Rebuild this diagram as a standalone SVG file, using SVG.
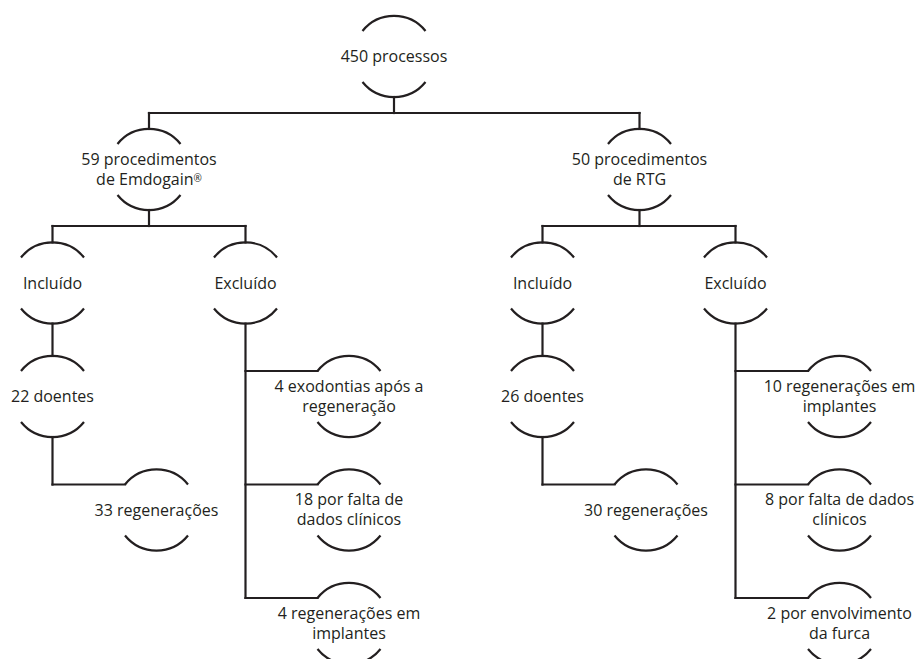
<svg xmlns="http://www.w3.org/2000/svg" xmlns:xlink="http://www.w3.org/1999/xlink" width="919" height="659" viewBox="0 0 919 659">
<style>
  .arc { fill: none; stroke: #231f20; stroke-width: 2.2; }
  .conn line { stroke: #231f20; stroke-width: 2.2; stroke-linecap: square; }
  text { font-family: "Open Sans", "Liberation Sans", sans-serif; font-size: 16px; fill: #231f20; text-anchor: middle; }
</style>
<defs>
  <g id="shape">
    <path class="arc" d="M -31.5,-25.5 A 40.5 40.5 0 0 1 31.5,-25.5"/>
    <path class="arc" d="M -31.5,25.5 A 40.5 40.5 0 0 0 31.5,25.5"/>
  </g>
</defs>
<rect width="919" height="659" fill="#ffffff"/>

<g id="connectors" class="conn">
  <line x1="394" y1="97" x2="394" y2="113"/>
  <line x1="149" y1="113" x2="639.5" y2="113"/>
  <line x1="149" y1="113" x2="149" y2="129"/>
  <line x1="639.5" y1="113" x2="639.5" y2="129"/>

  <line x1="149" y1="210" x2="149" y2="226"/>
  <line x1="52.5" y1="226" x2="245.5" y2="226"/>
  <line x1="52.5" y1="226" x2="52.5" y2="242.5"/>
  <line x1="245.5" y1="226" x2="245.5" y2="242.5"/>

  <line x1="639.5" y1="210" x2="639.5" y2="226"/>
  <line x1="542.5" y1="226" x2="735.5" y2="226"/>
  <line x1="542.5" y1="226" x2="542.5" y2="242.5"/>
  <line x1="735.5" y1="226" x2="735.5" y2="242.5"/>

  <line x1="52.5" y1="323.5" x2="52.5" y2="356"/>
  <line x1="52.5" y1="437" x2="52.5" y2="484.5"/>
  <line x1="52.5" y1="484.5" x2="125" y2="484.5"/>

  <line x1="245.5" y1="323.5" x2="245.5" y2="598"/>
  <line x1="245.5" y1="371" x2="317.5" y2="371"/>
  <line x1="245.5" y1="484.5" x2="317.5" y2="484.5"/>
  <line x1="245.5" y1="598" x2="317.5" y2="598"/>

  <line x1="542.5" y1="323.5" x2="542.5" y2="356"/>
  <line x1="542.5" y1="437" x2="542.5" y2="484.5"/>
  <line x1="542.5" y1="484.5" x2="614.5" y2="484.5"/>

  <line x1="735.5" y1="323.5" x2="735.5" y2="598"/>
  <line x1="735.5" y1="371" x2="808" y2="371"/>
  <line x1="735.5" y1="484.5" x2="808" y2="484.5"/>
  <line x1="735.5" y1="598" x2="808" y2="598"/>
</g>

<g id="n-processos">
  <use xlink:href="#shape" href="#shape" x="394" y="56.5"/>
  <text x="394" y="62">450 processos</text>
</g>
<g id="n-emdogain">
  <use xlink:href="#shape" href="#shape" x="149" y="169.5"/>
  <text x="149" y="165">59 procedimentos</text>
  <text x="149" y="185">de Emdogain<tspan font-size="10" dy="-3">®</tspan></text>
</g>
<g id="n-rtg">
  <use xlink:href="#shape" href="#shape" x="639.5" y="169.5"/>
  <text x="639.5" y="165">50 procedimentos</text>
  <text x="639.5" y="185">de RTG</text>
</g>
<g id="n-incluido-e">
  <use xlink:href="#shape" href="#shape" x="52.5" y="283"/>
  <text x="52.5" y="288.5">Incluído</text>
</g>
<g id="n-excluido-e">
  <use xlink:href="#shape" href="#shape" x="245.5" y="283"/>
  <text x="245.5" y="288.5">Excluído</text>
</g>
<g id="n-incluido-r">
  <use xlink:href="#shape" href="#shape" x="542.5" y="283"/>
  <text x="542.5" y="288.5">Incluído</text>
</g>
<g id="n-excluido-r">
  <use xlink:href="#shape" href="#shape" x="735.5" y="283"/>
  <text x="735.5" y="288.5">Excluído</text>
</g>
<g id="n-doentes-e">
  <use xlink:href="#shape" href="#shape" x="52.5" y="396.5"/>
  <text x="52.5" y="402">22 doentes</text>
</g>
<g id="n-regen-e">
  <use xlink:href="#shape" href="#shape" x="156.5" y="510"/>
  <text x="156.5" y="515.5">33 regenerações</text>
</g>
<g id="n-exo-e">
  <use xlink:href="#shape" href="#shape" x="349" y="396.5"/>
  <text x="349" y="391.5">4 exodontias após a</text>
  <text x="349" y="411.5">regeneração</text>
</g>
<g id="n-falta-e">
  <use xlink:href="#shape" href="#shape" x="349" y="510"/>
  <text x="349" y="505">18 por falta de</text>
  <text x="349" y="525">dados clínicos</text>
</g>
<g id="n-impl-e">
  <use xlink:href="#shape" href="#shape" x="349" y="623.5"/>
  <text x="349" y="618.5">4 regenerações em</text>
  <text x="349" y="638.5">implantes</text>
</g>
<g id="n-doentes-r">
  <use xlink:href="#shape" href="#shape" x="542.5" y="396.5"/>
  <text x="542.5" y="402">26 doentes</text>
</g>
<g id="n-regen-r">
  <use xlink:href="#shape" href="#shape" x="646" y="510"/>
  <text x="646" y="515.5">30 regenerações</text>
</g>
<g id="n-impl-r">
  <use xlink:href="#shape" href="#shape" x="839.5" y="396.5"/>
  <text x="839.5" y="391.5">10 regenerações em</text>
  <text x="839.5" y="411.5">implantes</text>
</g>
<g id="n-falta-r">
  <use xlink:href="#shape" href="#shape" x="839.5" y="510"/>
  <text x="839.5" y="505">8 por falta de dados</text>
  <text x="839.5" y="525">clínicos</text>
</g>
<g id="n-furca-r">
  <use xlink:href="#shape" href="#shape" x="839.5" y="623.5"/>
  <text x="839.5" y="618.5">2 por envolvimento</text>
  <text x="839.5" y="638.5">da furca</text>
</g>
</svg>
